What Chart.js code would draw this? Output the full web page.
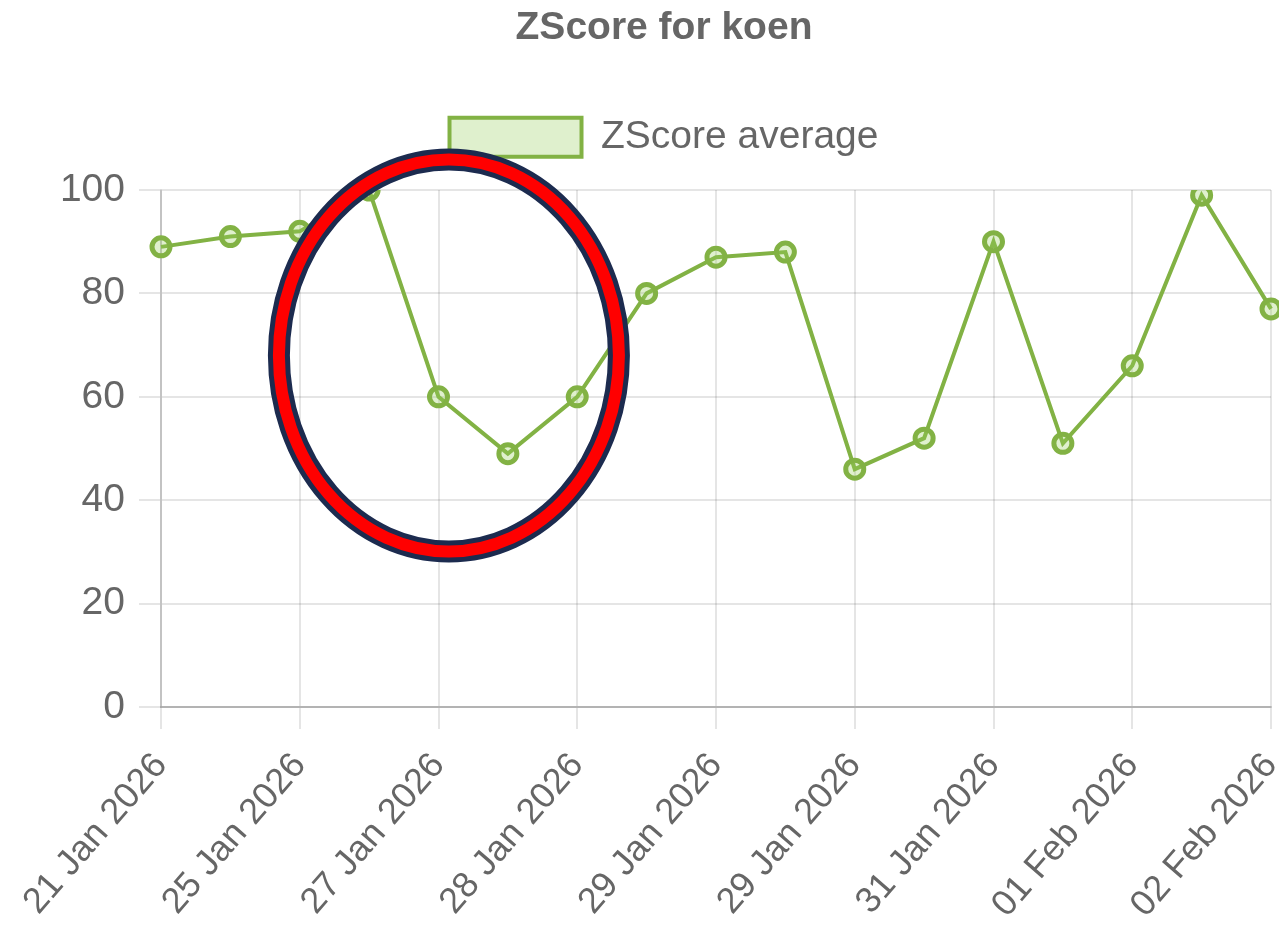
<!DOCTYPE html>
<html>
<head>
<meta charset="utf-8">
<script src="https://cdn.jsdelivr.net/npm/chart.js@4"></script>
<style>
  html, body { margin: 0; padding: 0; overflow: hidden; background: #fff; }
  #wrap { position: absolute; left: 0; top: 0; width: 1328px; height: 931px; }
</style>
</head>
<body>
<div id="wrap"><canvas id="chart"></canvas></div>
<script>
const dates = [
    '21 Jan 2026', '23 Jan 2026', '25 Jan 2026', '26 Jan 2026', '27 Jan 2026',
    '27 Jan 2026', '28 Jan 2026', '28 Jan 2026', '29 Jan 2026', '29 Jan 2026',
    '29 Jan 2026', '30 Jan 2026', '31 Jan 2026', '31 Jan 2026', '01 Feb 2026',
    '01 Feb 2026', '02 Feb 2026'
]
const zscore = [89, 91, 92, 100, 60, 49, 60, 80, 87, 88, 46, 52, 90, 51, 66, 99, 77]
const yTicks = [0, 20, 40, 60, 80, 100]

const font = "Arial, 'Liberation Sans', sans-serif"
Chart.defaults.font.family = font
Chart.defaults.color = '#666'

// red ring drawn on top, around the dip
const ringPlugin = {
    id: 'ring',
    afterDraw(chart) {
        const c = chart.ctx
        const x = chart.scales.x.getPixelForValue(4.15)
        const y = chart.scales.y.getPixelForValue(68)
        c.save()
        c.beginPath()
        c.ellipse(x, y, 170, 196, 0, 0, Math.PI * 2)
        c.strokeStyle = '#1c2b4f'
        c.lineWidth = 22
        c.stroke()
        c.strokeStyle = '#ff0000'
        c.lineWidth = 12
        c.stroke()
        c.restore()
    }
}

const ctx = document.getElementById('chart').getContext('2d')

const dataChart = new Chart(ctx, {
    type: 'line',
    data: {
        labels: dates,
        datasets: [{
            label: 'ZScore average',
            data: zscore,
            borderColor: 'rgb(130, 178, 68)',
            backgroundColor: 'rgba(150, 205, 90, 0.3)',
            borderWidth: 4,
            pointRadius: 9,
            pointBorderWidth: 5,
            fill: false,
            tension: 0
        }]
    },
    options: {
        responsive: true,
        maintainAspectRatio: false,
        animation: false,
        layout: { padding: { left: 57, right: 57 } },
        plugins: {
            title: {
                display: true,
                text: 'ZScore for koen',
                font: { size: 39, weight: 'bold' },
                color: '#666',
                padding: { top: 5, bottom: 33 }
            },
            // empty box under the legend, just for spacing
            subtitle: {
                display: true,
                text: '',
                weight: 500,
                font: { size: 1 },
                padding: { top: 0, bottom: 22 }
            },
            legend: {
                labels: {
                    boxWidth: 132,
                    boxHeight: 39,
                    padding: 33,
                    font: { size: 39 }
                }
            },
            tooltip: { enabled: false }
        },
        scales: {
            x: {
                afterFit(scale) {
                    scale.height = 224
                    scale.paddingLeft = Math.min(scale.paddingLeft, 150)
                },
                grid: { color: 'rgba(0,0,0,0.1)', lineWidth: 2, tickLength: 22 },
                border: { color: 'rgba(0,0,0,0.22)', width: 2 },
                ticks: {
                    autoSkip: false,
                    minRotation: 49,
                    maxRotation: 49,
                    padding: 16,
                    font: { size: 36 },
                    callback(val, i) { return i % 2 === 0 ? this.getLabelForValue(val) : null }
                }
            },
            y: {
                min: yTicks[0],
                max: yTicks[yTicks.length - 1],
                afterFit(scale) { scale.width = 104 },
                grid: { color: 'rgba(0,0,0,0.1)', lineWidth: 2, tickLength: 22 },
                border: { color: 'rgba(0,0,0,0.15)', width: 2 },
                ticks: { stepSize: 20, padding: 14, font: { size: 39 } }
            }
        }
    },
    plugins: [ringPlugin]
})
</script>
</body>
</html>
